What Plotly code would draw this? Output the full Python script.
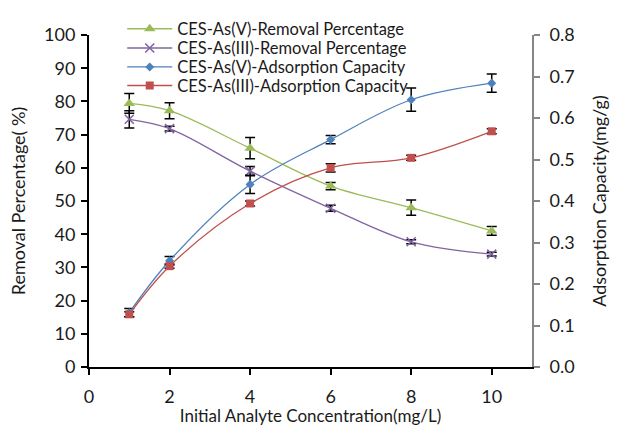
import plotly.graph_objects as go

# Initial analyte concentration (mg/L)
conc = [1, 2, 4, 6, 8, 10]

# Removal percentage (%), left axis
as5_removal = [79.4, 77.2, 65.9, 54.5, 48.0, 41.0]
as5_removal_err = [3.0, 2.4, 3.2, 1.1, 2.3, 1.3]
as3_removal = [74.6, 71.8, 59.0, 47.8, 37.7, 34.0]
as3_removal_err = [2.6, 0.7, 1.4, 0.9, 0.6, 0.6]

# Adsorption capacity (mg/g), right axis
as5_capacity = [0.131, 0.256, 0.440, 0.548, 0.644, 0.684]
as5_capacity_err = [0.010, 0.010, 0.022, 0.010, 0.028, 0.022]
as3_capacity = [0.127, 0.243, 0.394, 0.480, 0.504, 0.568]
as3_capacity_err = [0.006, 0.005, 0.006, 0.010, 0.006, 0.006]

x_ticks = [0, 2, 4, 6, 8, 10]

FONT = "Lato"
TEXT = "#1a1a1a"
GREEN, PURPLE, BLUE, RED = "#9BBB59", "#8064A2", "#4F81BD", "#C0504D"


def err(values):
    return dict(type="data", array=values, visible=True,
                color="black", thickness=1.5, width=5)


fig = go.Figure()
fig.add_trace(go.Scatter(
    x=conc, y=as5_removal, name="CES-As(V)-Removal Percentage",
    mode="lines+markers", line=dict(color=GREEN, width=1.3, shape="spline"),
    marker=dict(symbol="triangle-up", size=10, color=GREEN),
    error_y=err(as5_removal_err), legend="legend"))
fig.add_trace(go.Scatter(
    x=conc, y=as3_removal, name="CES-As(III)-Removal Percentage",
    mode="lines+markers", line=dict(color=PURPLE, width=1.3, shape="spline"),
    marker=dict(symbol="x-thin", size=9, color=PURPLE,
                line=dict(color=PURPLE, width=1.5)),
    error_y=err(as3_removal_err), legend="legend2"))
fig.add_trace(go.Scatter(
    x=conc, y=as5_capacity, name="CES-As(V)-Adsorption Capacity",
    mode="lines+markers", line=dict(color=BLUE, width=1.3, shape="spline"),
    marker=dict(symbol="diamond", size=7, color=BLUE),
    error_y=err(as5_capacity_err), yaxis="y2", legend="legend3"))
fig.add_trace(go.Scatter(
    x=conc, y=as3_capacity, name="CES-As(III)-Adsorption Capacity",
    mode="lines+markers", line=dict(color=RED, width=1.3, shape="spline"),
    marker=dict(symbol="square", size=8, color=RED),
    error_y=err(as3_capacity_err), yaxis="y2", legend="legend4"))


def legend_row(y):
    return dict(x=0.075, y=y, xanchor="left", yanchor="middle",
                bgcolor="rgba(0,0,0,0)", font=dict(size=16.5, color=TEXT),
                itemwidth=45, borderwidth=0)


fig.update_layout(
    width=625, height=426,
    margin=dict(l=89, r=93, t=25, b=59),
    paper_bgcolor="white", plot_bgcolor="white",
    font=dict(family=FONT, size=18, color=TEXT),
    showlegend=True,
    legend=legend_row(1.018),
    legend2=legend_row(0.960),
    legend3=legend_row(0.903),
    legend4=legend_row(0.847),
    xaxis=dict(
        range=[0, 11], tickvals=x_ticks, ticktext=[str(v) for v in x_ticks],
        showgrid=False, zeroline=False, showline=True, linecolor="black",
        linewidth=2, ticks="outside", ticklen=6, tickwidth=1.5, tickcolor="black",
        ticklabelstandoff=6, automargin=False,
        title=dict(text="Initial Analyte Concentration(mg/L)", standoff=12,
                   font=dict(size=17))),
    yaxis=dict(
        range=[0, 100], dtick=10, showgrid=False, zeroline=False, showline=True,
        linecolor="black", linewidth=2, ticks="outside", ticklen=6,
        tickwidth=1.5, tickcolor="black", ticklabelstandoff=2, automargin=False,
        title=dict(text="Removal Percentage( %)", standoff=14, font=dict(size=18))),
    yaxis2=dict(
        range=[0, 0.8], dtick=0.1, tickformat=".1f", overlaying="y", side="right",
        showgrid=False, zeroline=False, showline=True, linecolor="#868686",
        linewidth=2, ticks="outside", ticklen=6, tickwidth=1.5,
        tickcolor="#868686", ticklabelstandoff=6, automargin=False,
        title=dict(text="Adsorption Capacity(mg/g)", standoff=20, font=dict(size=18))),
)

fig.write_html("out.html")
